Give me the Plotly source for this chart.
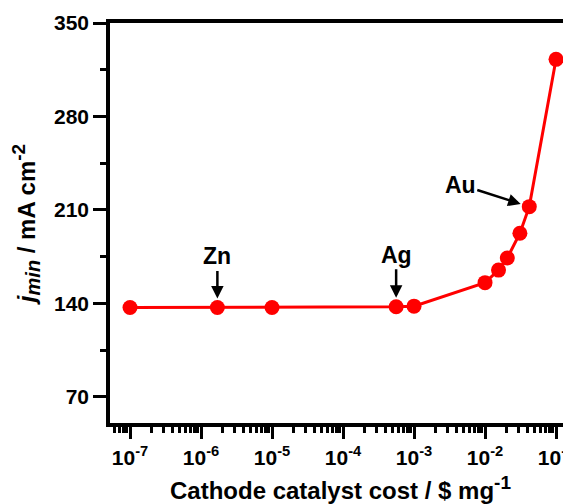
import math
import plotly.graph_objects as go

cost = [1e-7, 1.7e-6, 1e-5, 5.6e-4, 1e-3, 1e-2, 1.55e-2, 2.06e-2, 3.1e-2, 4.2e-2, 1e-1]
jmin = [137, 137, 137, 137.5, 138, 155.6, 165, 174, 192.6, 212.5, 322.8]

x_tickvals = [1e-7, 1e-6, 1e-5, 1e-4, 1e-3, 1e-2, 1e-1]
x_ticktext = ["10<sup>-7</sup>", "10<sup>-6</sup>", "10<sup>-5</sup>", "10<sup>-4</sup>",
              "10<sup>-3</sup>", "10<sup>-2</sup>", "10<sup>-1</sup>"]
y_tickvals = [70, 140, 210, 280, 350]

labels = ["Zn", "Ag", "Au"]
label_idx = [1, 3, 9]
label_offsets = [(0, -51), (0, -52), (-69, -22)]

minor_x = [k * 10.0 ** e for e in range(-8, 0) for k in range(2, 10)]

FAM = "Liberation Sans"
tickfont = dict(family=FAM, size=21, color="black", weight="bold")
titlefont = dict(family=FAM, size=24, color="black", weight="bold")
annfont = dict(family=FAM, size=23, color="black", weight="bold")

fig = go.Figure()
fig.add_trace(go.Scatter(
    x=cost, y=jmin, mode="lines+markers",
    line=dict(color="#ff0000", width=3),
    marker=dict(color="#ff0000", size=15),
    showlegend=False, cliponaxis=False,
))

for name, i, (ax, ay) in zip(labels, label_idx, label_offsets):
    fig.add_annotation(
        x=math.log10(cost[i]), y=jmin[i], xref="x", yref="y",
        text=name, showarrow=True, ax=ax, ay=ay,
        arrowhead=2, arrowsize=1, arrowwidth=2.5, arrowcolor="black",
        standoff=9, font=annfont,
    )

fig.update_layout(
    width=563, height=496,
    margin=dict(l=102, r=0, t=15, b=81),
    paper_bgcolor="white", plot_bgcolor="white",
    font=tickfont,
    xaxis=dict(
        type="log", range=[-7.282, -0.789], automargin=False,
        tickvals=x_tickvals, ticktext=x_ticktext, ticklabeloverflow="allow",
        ticks="outside", ticklen=12, tickwidth=3, tickcolor="black",
        ticklabelstandoff=1,
        showline=True, linewidth=3.5, linecolor="black", mirror=True,
        showgrid=False, zeroline=False,
        minor=dict(tickvals=minor_x, ticks="outside", ticklen=6, tickwidth=2.5, tickcolor="black", showgrid=False),
        tickfont=tickfont,
        title=dict(text="Cathode catalyst cost / $ mg<sup><span style='font-size:19px'>-1</span></sup>", font=titlefont),
    ),
    yaxis=dict(
        range=[50.5, 350], automargin=False,
        tickvals=y_tickvals,
        ticks="outside", ticklen=13, tickwidth=3, tickcolor="black",
        showline=True, linewidth=3.5, linecolor="black", mirror=False,
        showgrid=False, zeroline=False,
        minor=dict(dtick=35, tick0=0, ticks="outside", ticklen=6, tickwidth=3, tickcolor="black", showgrid=False),
        tickfont=tickfont,
        title=dict(text="<i>j</i><sub><span style='font-size:20px'><i>min</i></span></sub> / mA cm<sup><span style='font-size:19px'>-2</span></sup>", font=titlefont),
    ),
)

fig.write_html("out.html")
